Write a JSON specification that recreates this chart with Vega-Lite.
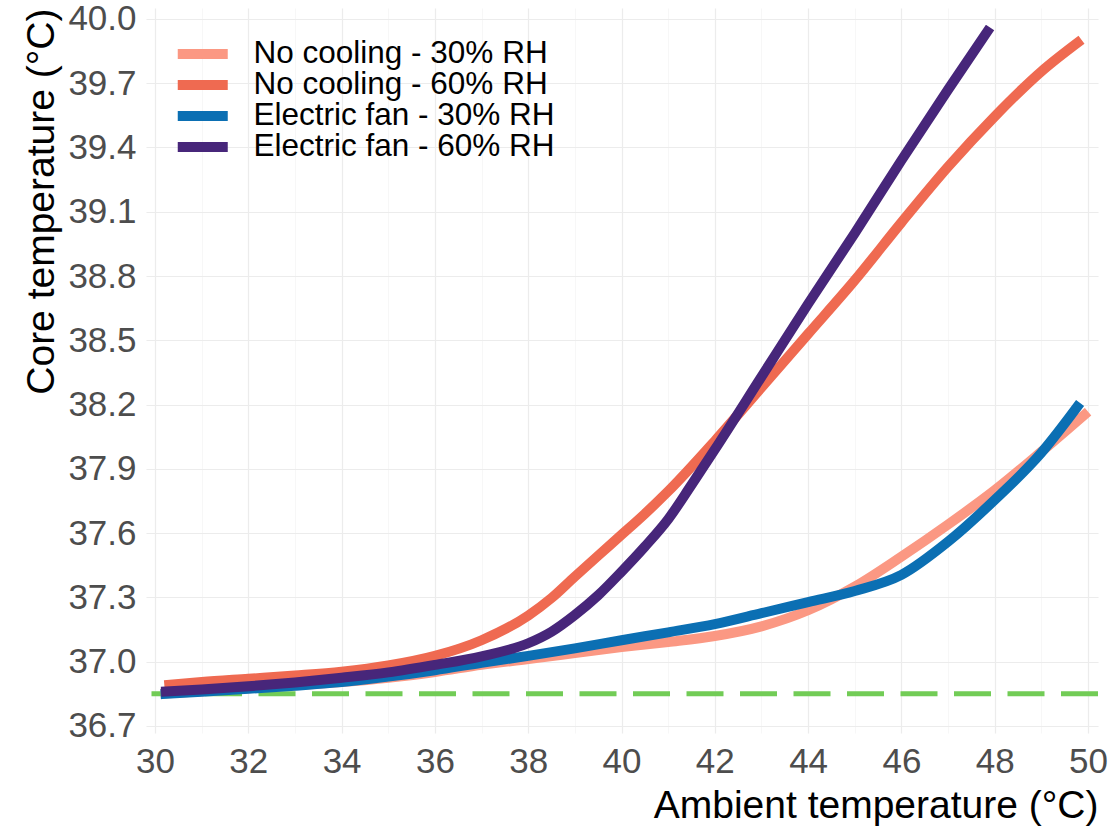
{
  "$schema": "https://vega.github.io/schema/vega-lite/v6.json",
  "autosize": {"type": "none"},
  "width": 952,
  "height": 725,
  "padding": {"left": 146, "top": 8, "right": 14, "bottom": 96},
  "background": "white",
  "config": {
    "view": {"stroke": null},
    "font": "Liberation Sans",
    "axis": {"domain": false, "ticks": false, "labelColor": "#4d4d4d", "labelFont": "Liberation Sans", "titleFont": "Liberation Sans", "titleColor": "#000000", "titleFontWeight": "normal"}
  },
  "datasets": {
    "curves": [
      {"series": "No cooling - 30% RH", "ambient": 30.12, "core": 36.85},
      {"series": "No cooling - 30% RH", "ambient": 31, "core": 36.862},
      {"series": "No cooling - 30% RH", "ambient": 32, "core": 36.876},
      {"series": "No cooling - 30% RH", "ambient": 33, "core": 36.89},
      {"series": "No cooling - 30% RH", "ambient": 34, "core": 36.905},
      {"series": "No cooling - 30% RH", "ambient": 35, "core": 36.925},
      {"series": "No cooling - 30% RH", "ambient": 36, "core": 36.952},
      {"series": "No cooling - 30% RH", "ambient": 37, "core": 36.985},
      {"series": "No cooling - 30% RH", "ambient": 38, "core": 37.012},
      {"series": "No cooling - 30% RH", "ambient": 39, "core": 37.04},
      {"series": "No cooling - 30% RH", "ambient": 40, "core": 37.068},
      {"series": "No cooling - 30% RH", "ambient": 41, "core": 37.092},
      {"series": "No cooling - 30% RH", "ambient": 42, "core": 37.12},
      {"series": "No cooling - 30% RH", "ambient": 43, "core": 37.165},
      {"series": "No cooling - 30% RH", "ambient": 44, "core": 37.24},
      {"series": "No cooling - 30% RH", "ambient": 45, "core": 37.35},
      {"series": "No cooling - 30% RH", "ambient": 46, "core": 37.49},
      {"series": "No cooling - 30% RH", "ambient": 47, "core": 37.64},
      {"series": "No cooling - 30% RH", "ambient": 48, "core": 37.8},
      {"series": "No cooling - 30% RH", "ambient": 49, "core": 37.98},
      {"series": "No cooling - 30% RH", "ambient": 50, "core": 38.167},

      {"series": "No cooling - 60% RH", "ambient": 30.2, "core": 36.89},
      {"series": "No cooling - 60% RH", "ambient": 31, "core": 36.905},
      {"series": "No cooling - 60% RH", "ambient": 32, "core": 36.92},
      {"series": "No cooling - 60% RH", "ambient": 33, "core": 36.935},
      {"series": "No cooling - 60% RH", "ambient": 34, "core": 36.953},
      {"series": "No cooling - 60% RH", "ambient": 35, "core": 36.982},
      {"series": "No cooling - 60% RH", "ambient": 36, "core": 37.027},
      {"series": "No cooling - 60% RH", "ambient": 37, "core": 37.1},
      {"series": "No cooling - 60% RH", "ambient": 38, "core": 37.215},
      {"series": "No cooling - 60% RH", "ambient": 38.5, "core": 37.297},
      {"series": "No cooling - 60% RH", "ambient": 39, "core": 37.397},
      {"series": "No cooling - 60% RH", "ambient": 39.5, "core": 37.495},
      {"series": "No cooling - 60% RH", "ambient": 40, "core": 37.592},
      {"series": "No cooling - 60% RH", "ambient": 40.5, "core": 37.69},
      {"series": "No cooling - 60% RH", "ambient": 41, "core": 37.795},
      {"series": "No cooling - 60% RH", "ambient": 42, "core": 38.03},
      {"series": "No cooling - 60% RH", "ambient": 43, "core": 38.28},
      {"series": "No cooling - 60% RH", "ambient": 44, "core": 38.53},
      {"series": "No cooling - 60% RH", "ambient": 45, "core": 38.78},
      {"series": "No cooling - 60% RH", "ambient": 46, "core": 39.05},
      {"series": "No cooling - 60% RH", "ambient": 47, "core": 39.31},
      {"series": "No cooling - 60% RH", "ambient": 48, "core": 39.545},
      {"series": "No cooling - 60% RH", "ambient": 49, "core": 39.755},
      {"series": "No cooling - 60% RH", "ambient": 49.86, "core": 39.903},

      {"series": "Electric fan - 30% RH", "ambient": 30.12, "core": 36.848},
      {"series": "Electric fan - 30% RH", "ambient": 31, "core": 36.86},
      {"series": "Electric fan - 30% RH", "ambient": 32, "core": 36.873},
      {"series": "Electric fan - 30% RH", "ambient": 33, "core": 36.888},
      {"series": "Electric fan - 30% RH", "ambient": 34, "core": 36.905},
      {"series": "Electric fan - 30% RH", "ambient": 35, "core": 36.93},
      {"series": "Electric fan - 30% RH", "ambient": 36, "core": 36.96},
      {"series": "Electric fan - 30% RH", "ambient": 37, "core": 36.995},
      {"series": "Electric fan - 30% RH", "ambient": 38, "core": 37.027},
      {"series": "Electric fan - 30% RH", "ambient": 39, "core": 37.062},
      {"series": "Electric fan - 30% RH", "ambient": 40, "core": 37.1},
      {"series": "Electric fan - 30% RH", "ambient": 41, "core": 37.137},
      {"series": "Electric fan - 30% RH", "ambient": 42, "core": 37.175},
      {"series": "Electric fan - 30% RH", "ambient": 43, "core": 37.226},
      {"series": "Electric fan - 30% RH", "ambient": 44, "core": 37.278},
      {"series": "Electric fan - 30% RH", "ambient": 45, "core": 37.33},
      {"series": "Electric fan - 30% RH", "ambient": 46, "core": 37.405},
      {"series": "Electric fan - 30% RH", "ambient": 47, "core": 37.56},
      {"series": "Electric fan - 30% RH", "ambient": 48, "core": 37.755},
      {"series": "Electric fan - 30% RH", "ambient": 49, "core": 37.975},
      {"series": "Electric fan - 30% RH", "ambient": 49.83, "core": 38.207},

      {"series": "Electric fan - 60% RH", "ambient": 30.13, "core": 36.86},
      {"series": "Electric fan - 60% RH", "ambient": 31, "core": 36.87},
      {"series": "Electric fan - 60% RH", "ambient": 32, "core": 36.885},
      {"series": "Electric fan - 60% RH", "ambient": 33, "core": 36.903},
      {"series": "Electric fan - 60% RH", "ambient": 34, "core": 36.925},
      {"series": "Electric fan - 60% RH", "ambient": 35, "core": 36.95},
      {"series": "Electric fan - 60% RH", "ambient": 36, "core": 36.985},
      {"series": "Electric fan - 60% RH", "ambient": 37, "core": 37.025},
      {"series": "Electric fan - 60% RH", "ambient": 38, "core": 37.086},
      {"series": "Electric fan - 60% RH", "ambient": 38.5, "core": 37.14},
      {"series": "Electric fan - 60% RH", "ambient": 39, "core": 37.218},
      {"series": "Electric fan - 60% RH", "ambient": 39.5, "core": 37.31},
      {"series": "Electric fan - 60% RH", "ambient": 40, "core": 37.42},
      {"series": "Electric fan - 60% RH", "ambient": 40.5, "core": 37.537},
      {"series": "Electric fan - 60% RH", "ambient": 41, "core": 37.665},
      {"series": "Electric fan - 60% RH", "ambient": 41.5, "core": 37.825},
      {"series": "Electric fan - 60% RH", "ambient": 42, "core": 37.99},
      {"series": "Electric fan - 60% RH", "ambient": 43, "core": 38.33},
      {"series": "Electric fan - 60% RH", "ambient": 44, "core": 38.67},
      {"series": "Electric fan - 60% RH", "ambient": 45, "core": 39.0},
      {"series": "Electric fan - 60% RH", "ambient": 46, "core": 39.34},
      {"series": "Electric fan - 60% RH", "ambient": 47, "core": 39.67},
      {"series": "Electric fan - 60% RH", "ambient": 47.9, "core": 39.96}
    ],
    "reference": [{"baseline": 36.85}]
  },
  "layer": [
    {
      "data": {"name": "reference"},
      "mark": {"type": "rule", "color": "#72CC56", "strokeWidth": 5, "strokeDash": [37, 16.5]},
      "encoding": {
        "y": {"field": "baseline", "type": "quantitative", "scale": {"domain": [36.667, 40.051], "nice": false, "zero": false}}
      }
    },
    {
      "data": {"name": "curves"},
      "mark": {"type": "line", "strokeWidth": 10, "strokeCap": "butt", "strokeJoin": "round", "interpolate": "monotone", "clip": true},
      "encoding": {
        "x": {
          "field": "ambient", "type": "quantitative",
          "scale": {"domain": [29.807, 50.214], "nice": false, "zero": false},
          "axis": {
            "values": [30,31,32,33,34,35,36,37,38,39,40,41,42,43,44,45,46,47,48,49,50],
            "labelExpr": "datum.value % 2 == 0 ? datum.label : ''",
            "labelFontSize": 35, "labelPadding": 11,
            "gridColor": {"condition": {"test": "datum.value % 2 == 0", "value": "#ececec"}, "value": "#f5f5f5"},
            "gridWidth": {"condition": {"test": "datum.value % 2 == 0", "value": 1.2}, "value": 0.8},
            "title": "Ambient temperature (°C)", "titleFontSize": 39, "titleAnchor": "end", "titlePadding": 7
          }
        },
        "y": {
          "field": "core", "type": "quantitative",
          "scale": {"domain": [36.667, 40.051], "nice": false, "zero": false},
          "axis": {
            "values": [36.7,36.85,37.0,37.15,37.3,37.45,37.6,37.75,37.9,38.05,38.2,38.35,38.5,38.65,38.8,38.95,39.1,39.25,39.4,39.55,39.7,39.85,40.0],
            "labelExpr": "abs((datum.value-36.7)/0.3 - round((datum.value-36.7)/0.3)) < 0.05 ? format(datum.value, '.1f') : ''",
            "labelFontSize": 35, "labelPadding": 10,
            "gridColor": {"condition": {"test": "abs((datum.value-36.7)/0.3 - round((datum.value-36.7)/0.3)) < 0.05", "value": "#ececec"}, "value": "#f5f5f5"},
            "gridWidth": {"condition": {"test": "abs((datum.value-36.7)/0.3 - round((datum.value-36.7)/0.3)) < 0.05", "value": 1.2}, "value": 0.8},
            "title": "Core temperature (°C)", "titleFontSize": 39, "titleAnchor": "end", "titlePadding": 6
          }
        },
        "color": {
          "field": "series", "type": "nominal",
          "scale": {
            "domain": ["No cooling - 30% RH", "No cooling - 60% RH", "Electric fan - 30% RH", "Electric fan - 60% RH"],
            "range": ["#FB9883", "#EF6A51", "#0B6FB3", "#47267A"]
          },
          "legend": {
            "title": null, "orient": "none", "legendX": 21, "legendY": 31, "padding": 0,
            "symbolType": "M-1,0H9", "symbolSize": 100, "symbolStrokeWidth": 10,
            "labelFontSize": 31.5, "labelColor": "#000000", "labelFont": "Liberation Sans", "labelOffset": 55,
            "rowPadding": -2, "clipHeight": 30, "labelLimit": 500
          }
        }
      }
    }
  ]
}
